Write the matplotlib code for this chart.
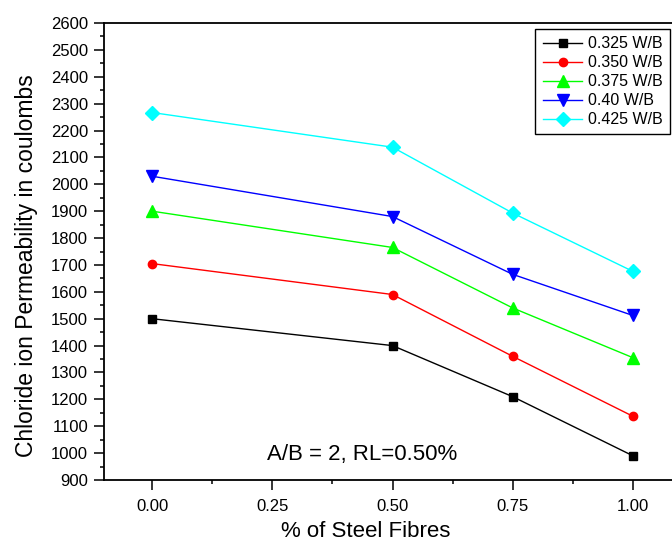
import matplotlib
matplotlib.use('Agg')
import matplotlib.pyplot as plt
from matplotlib.ticker import MultipleLocator

# Data
steel_fibres = [0.00, 0.50, 0.75, 1.00]
wb_labels = ['0.325 W/B', '0.350 W/B', '0.375 W/B', '0.40 W/B', '0.425 W/B']
wb_0325 = [1500, 1400, 1210, 990]
wb_0350 = [1705, 1590, 1360, 1137]
wb_0375 = [1900, 1765, 1540, 1355]
wb_0400 = [2030, 1880, 1665, 1512]
wb_0425 = [2267, 2138, 1893, 1676]

series = [wb_0325, wb_0350, wb_0375, wb_0400, wb_0425]
colors = ['black', 'red', '#00ff00', 'blue', 'cyan']
markers = ['s', 'o', '^', 'v', 'D']
msizes = [5.5, 6, 8, 8, 7]

plt.rcParams['font.family'] = ['Liberation Sans', 'DejaVu Sans']
plt.rcParams['font.size'] = 12

W, H = 672, 542
fig = plt.figure(figsize=(W / 100, H / 100), dpi=100)
# the right spine sits just outside the picture, as in the reference
ax = fig.add_axes([104 / W, (H - 480) / H, (681 - 104) / W, (480 - 23) / H])

for vals, lab, c, m, ms in zip(series, wb_labels, colors, markers, msizes):
    ax.plot(steel_fibres, vals, color=c, marker=m, markersize=ms, linewidth=1,
            label=lab)

ax.set_xlim(-0.1, 1.1)
ax.set_ylim(900, 2600)
ax.set_xticks([0.00, 0.25, 0.50, 0.75, 1.00])
ax.set_xticklabels(['0.00', '0.25', '0.50', '0.75', '1.00'])
ax.xaxis.set_minor_locator(MultipleLocator(0.125))
ax.yaxis.set_major_locator(MultipleLocator(100))
ax.yaxis.set_minor_locator(MultipleLocator(50))
ax.tick_params(which='major', direction='out', length=7, width=1.1, labelsize=12)
ax.tick_params(which='minor', direction='out', length=3, width=1.1)
ax.tick_params(axis='x', which='major', pad=6.5)
ax.tick_params(axis='y', which='major', pad=4.5)
for s in ax.spines.values():
    s.set_linewidth(1.3)

ax.set_xlabel('% of Steel Fibres', fontsize=16, va='center')
ax.xaxis.set_label_coords(0.454, -0.113)
ax.set_ylabel('Chloride ion Permeability in coulombs', fontsize=16.5, va='center')
ax.yaxis.set_label_coords(-0.134, 0.468)

ax.text(0.436, 993, 'A/B = 2, RL=0.50%', fontsize=16, ha='center', va='center')

leg = ax.legend(loc='upper right', bbox_to_anchor=(670 / W, (H - 29) / H),
                bbox_transform=fig.transFigure, fontsize=11.5, fancybox=False,
                framealpha=1, edgecolor='black', handlelength=2.5,
                labelspacing=0.25, borderpad=0.45, handletextpad=0.35,
                borderaxespad=0)
leg.get_frame().set_linewidth(1)

fig.savefig('out.png', dpi=100)
